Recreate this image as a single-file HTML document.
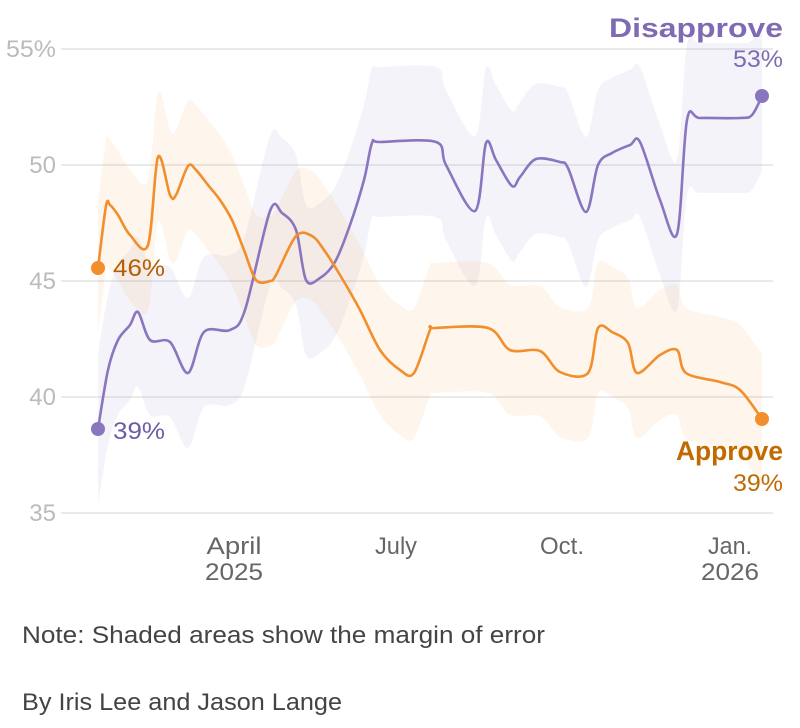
<!DOCTYPE html>
<html><head><meta charset="utf-8"><style>
body{margin:0;background:#fff;width:800px;height:728px;overflow:hidden}
svg{display:block;font-family:"Liberation Sans",sans-serif}
</style></head><body>
<svg id="s" width="800" height="728" viewBox="0 0 800 728">
<g stroke="#ddd" stroke-width="1.3">
<line x1="61" x2="773" y1="49" y2="49"/><line x1="61" x2="773" y1="165" y2="165"/>
<line x1="61" x2="773" y1="281" y2="281"/><line x1="61" x2="773" y1="397" y2="397"/>
<line x1="61" x2="773" y1="513" y2="513"/></g>
<g id="bands"></g>
<g fill="#bbb" font-size="24" text-anchor="end">
<text x="56" y="57" textLength="50" lengthAdjust="spacingAndGlyphs">55%</text><text x="56" y="173">50</text><text x="56" y="289">45</text>
<text x="56" y="405">40</text><text x="56" y="521">35</text></g>
<g fill="#666" font-size="24" text-anchor="middle" lengthAdjust="spacingAndGlyphs">
<text x="234" y="554" textLength="55" lengthAdjust="spacingAndGlyphs">April</text><text x="234" y="580" textLength="58" lengthAdjust="spacingAndGlyphs">2025</text>
<text x="396" y="554" textLength="42" lengthAdjust="spacingAndGlyphs">July</text><text x="562" y="554" textLength="44" lengthAdjust="spacingAndGlyphs">Oct.</text>
<text x="730" y="554" textLength="44" lengthAdjust="spacingAndGlyphs">Jan.</text><text x="730" y="580" textLength="58" lengthAdjust="spacingAndGlyphs">2026</text></g>
<g id="lines"></g>
<circle cx="98" cy="268" r="7" fill="#f28e2b"/><circle cx="762" cy="419" r="7" fill="#f28e2b"/>
<circle cx="98" cy="429" r="7" fill="#8a76bf"/><circle cx="762" cy="96" r="7" fill="#8a76bf"/>
<text x="113" y="276" font-size="24" fill="#b55f00" textLength="52" lengthAdjust="spacingAndGlyphs">46%</text>
<text x="113" y="439" font-size="24" fill="#6f5ca8" textLength="52" lengthAdjust="spacingAndGlyphs">39%</text>
<text x="783" y="37" font-size="27" font-weight="bold" fill="#7f6bb3" text-anchor="end" textLength="174" lengthAdjust="spacingAndGlyphs">Disapprove</text>
<text x="783" y="67" font-size="24" fill="#7f6bb3" text-anchor="end" textLength="50" lengthAdjust="spacingAndGlyphs">53%</text>
<text x="783" y="460" font-size="27" font-weight="bold" fill="#c06a00" text-anchor="end" textLength="107" lengthAdjust="spacingAndGlyphs">Approve</text>
<text x="783" y="491" font-size="24" fill="#c06a00" text-anchor="end" textLength="50" lengthAdjust="spacingAndGlyphs">39%</text>
<text x="22" y="643" font-size="24" fill="#444" textLength="523" lengthAdjust="spacingAndGlyphs">Note: Shaded areas show the margin of error</text>
<text x="22" y="710" font-size="24" fill="#444" textLength="320" lengthAdjust="spacingAndGlyphs">By Iris Lee and Jason Lange</text>
</svg>
<script>
var O=[[98,268],[106,206],[110,205],[118,215],[130,235],[148,245],[158,157],[170,195],[176,195],[188,166],[196,170],[208,185],[220,200],[232,220],[244,250],[256,280],[270,281],[276,275],[296,236],[312,236],[324,250],[340,275],[360,310],[380,350],[400,370],[414,373],[430,330],[434,328],[488,328],[510,350],[540,351],[560,372],[588,373],[598,328],[612,332],[628,343],[637,373],[660,355],[677,350],[686,373],[720,382],[740,390],[762,419]];
var P=[[98,429],[108,370],[118,340],[130,325],[138,312],[150,340],[170,342],[188,373],[204,332],[230,330],[245,310],[270,211],[282,213],[296,230],[306,280],[320,278],[335,262],[350,225],[364,180],[372,143],[380,142],[436,142],[446,165],[475,211],[486,143],[496,160],[512,186],[520,177],[536,159],[560,162],[568,168],[586,212],[598,165],[612,153],[630,145],[640,142],[660,200],[677,234],[687,120],[700,118],[740,118],[752,115],[762,96]];
function smooth(a){var d="M"+a[0][0]+","+a[0][1];
for(var i=0;i<a.length-1;i++){var p0=a[Math.max(i-1,0)],p1=a[i],p2=a[i+1],p3=a[Math.min(i+2,a.length-1)];
var t=0.16;var c1x=p1[0]+(p2[0]-p0[0])*t,c1y=p1[1]+(p2[1]-p0[1])*t,c2x=p2[0]-(p3[0]-p1[0])*t,c2y=p2[1]-(p3[1]-p1[1])*t;
d+=" C"+c1x+","+c1y+" "+c2x+","+c2y+" "+p2[0]+","+p2[1];}return d;}
function band(a,d,c){var up=a.map(p=>[p[0],p[1]-d]),dn=a.slice().reverse().map(p=>[p[0],p[1]+d]);
return '<path d="'+smooth(up)+' L'+smooth(dn).slice(1)+' Z" fill="'+c+'"/>';}
function line(a,c){return '<path d="'+smooth(a)+'" fill="none" stroke="'+c+'" stroke-width="2.6" stroke-linejoin="round"/>';}
document.getElementById("bands").innerHTML=band(P,75,"rgba(138,118,191,0.09)")+band(O,65,"rgba(242,142,43,0.09)");
document.getElementById("lines").innerHTML=line(P,"#8a76bf")+line(O,"#f28e2b");
</script>
</body></html>
